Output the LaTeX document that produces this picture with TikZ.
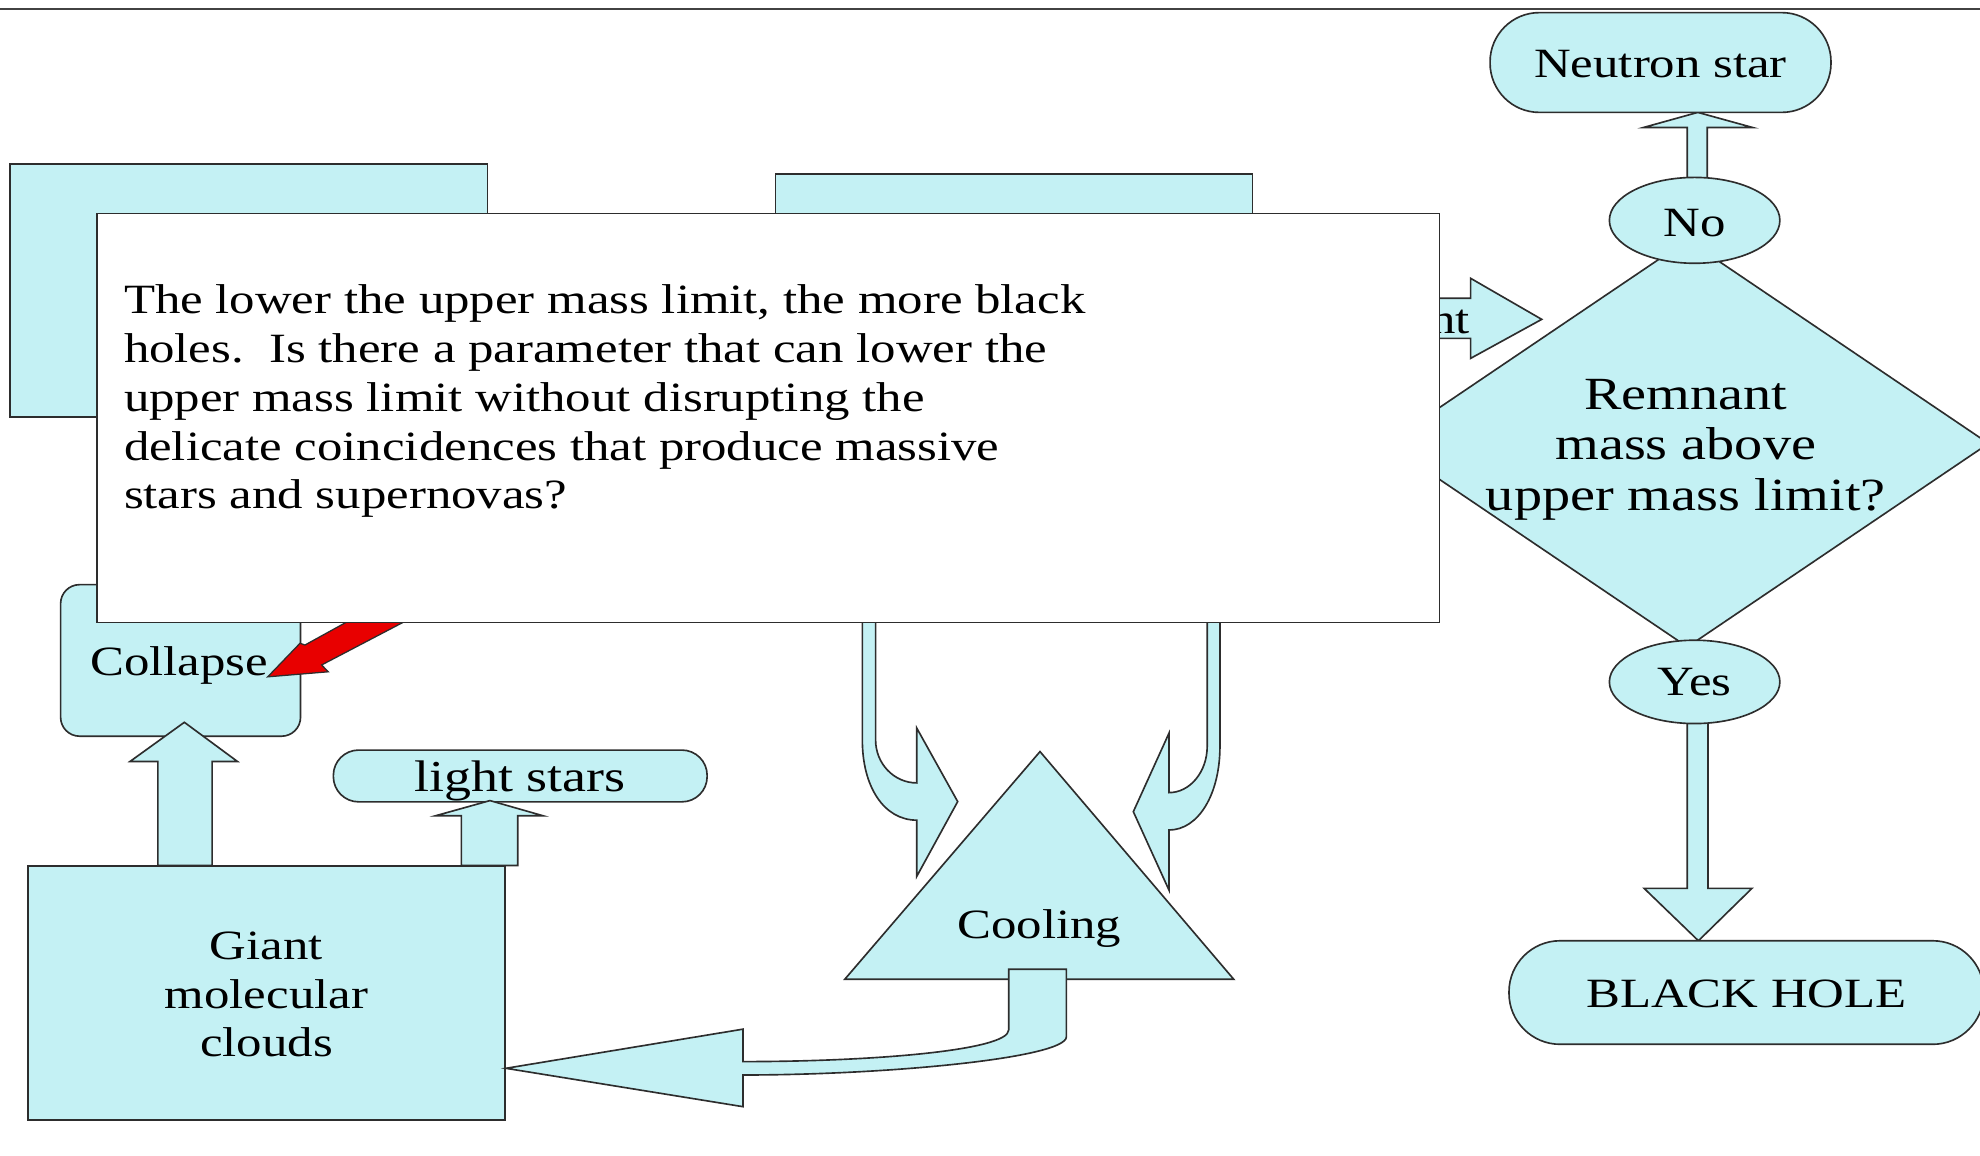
\documentclass[tikz,border=0pt]{standalone}
\usepackage{fontspec}
\setmainfont{Liberation Serif}[FakeStretch=1.22]
\usetikzlibrary{shapes.geometric}
\definecolor{cy}{RGB}{196,241,244}
\definecolor{ol}{RGB}{45,45,45}
\definecolor{redar}{RGB}{232,0,0}
\begin{document}
\begin{tikzpicture}[x=1pt,y=-1pt,
  shp/.style={draw=ol, fill=cy, line width=1.3pt, line join=miter, inner sep=0pt},
  txt/.style={font=\fontsize{33}{39}\selectfont, text=black, inner sep=0pt, anchor=base},
  dtxt/.style={font=\fontsize{36.5}{40}\selectfont, text=black, inner sep=0pt, anchor=base},
  notebox/.style={draw=ol, fill=white, line width=1.3pt, inner sep=0pt}]
\useasboundingbox (0,0) rectangle (1568,915);
\clip (0,0) rectangle (1568,915);
\fill[white] (0,0) rectangle (1568,915);
\draw[color=ol!90, line width=1.6pt] (0,7.5) -- (1568,7.5);

% boxes hidden under the note
\node[shp, rectangle, minimum width=378pt, minimum height=200pt] (tl) at (197,230) {};
\node[shp, rectangle, minimum width=378pt, minimum height=190pt] (tm) at (803,233) {};

% diamond
\node[shp, diamond, minimum width=477.4pt, minimum height=322.8pt] (dia) at (1336.3,351.2) {};

% arrow into diamond with partly hidden label
\draw[shp] (1120,236.2) -- (1164.6,236.2) -- (1164.6,220.4) -- (1220.9,252.9)
  -- (1164.6,283.8) -- (1164.6,268) -- (1120,268) -- cycle;
\node[txt, anchor=base east] (nt) at (1164,264) {nt};

% curved arrows into Cooling
\draw[shp] (682.9,480) -- (682.9,586) .. controls (682.9,623) and (700,649.5) .. (726,649.5)
  -- (726,694) -- (758.4,634.8) -- (726,576.6) -- (726,620)
  .. controls (708,620) and (693.4,604.7) .. (693.4,586) -- (693.4,480) -- cycle;
\draw[shp] (966.1,480) -- (966.1,591) .. controls (966.1,629) and (949,657.3) .. (925.7,657.3)
  -- (925.7,704.8) -- (897.5,642.8) -- (925.7,580.7) -- (925.7,627.7)
  .. controls (942.4,627.7) and (956,611.2) .. (956,591) -- (956,480) -- cycle;

% collapse box
\node[shp, rectangle, rounded corners=15pt, minimum width=190pt, minimum height=120pt] (col) at (143,523) {};
\node[txt] (coltext) at (142,535) {Collapse};

% red arrow (on top of the collapse box)
\draw[draw=ol, fill=redar, line width=1pt, line join=miter] (212,536) -- (237.6,509.4) -- (241.5,510.8)
  -- (297.4,480) -- (343.8,480) -- (254.7,526.6) -- (260,532) -- cycle;

% the note
\node[notebox, minimum width=1063pt, minimum height=324pt] (note) at (608.5,331) {};
\node[txt, anchor=base west] (l1) at (98,248) {The lower the upper mass limit, the more black};
\node[txt, anchor=base west] (l2) at (98,287) {holes.\ \ Is there a parameter that can lower the};
\node[txt, anchor=base west] (l3) at (98,326) {upper mass limit without disrupting the};
\node[txt, anchor=base west] (l4) at (98,365) {delicate coincidences that produce massive};
\node[txt, anchor=base west] (l5) at (98,403) {stars and supernovas?};

% right column
\draw[shp] (1336.2,150) -- (1336.2,101) -- (1301.4,101) -- (1344.5,89) -- (1388,101)
  -- (1352,101) -- (1352,150) -- cycle;
\node[shp, ellipse, minimum width=135pt, minimum height=68pt] (no) at (1342,174.5) {};
\node[txt] (notext) at (1342,187) {No};
\node[shp, rectangle, rounded corners=39pt, minimum width=270pt, minimum height=79pt] (ns) at (1315,49.5) {};
\node[txt] (nstext) at (1315,61) {Neutron star};
\node[dtxt] (d1) at (1335,324) {Remnant};
\node[dtxt] (d2) at (1335,364) {mass above};
\node[dtxt] (d3) at (1335,404) {upper mass limit?};
\draw[shp] (1336.2,560) -- (1336.2,703.5) -- (1302,703.5) -- (1345,745) -- (1387.4,703.5)
  -- (1352.6,703.5) -- (1352.6,560) -- cycle;
\node[shp, ellipse, minimum width=135pt, minimum height=66pt] (yes) at (1342,540) {};
\node[txt] (yestext) at (1342,551) {Yes};
\node[shp, rectangle, rounded corners=40.5pt, minimum width=376pt, minimum height=82pt] (bh) at (1383,786) {};
\node[txt] (bhtext) at (1383,798) {BLACK HOLE};

% lower left
\node[shp, rectangle, minimum width=378pt, minimum height=201pt] (gmc) at (211,786.5) {};
\node[txt] (g1) at (211,760) {Giant};
\node[txt] (g2) at (211,799) {molecular};
\node[txt] (g3) at (211,837) {clouds};
\node[shp, rectangle, rounded corners=20pt, minimum width=296pt, minimum height=41pt] (light) at (412,614.5) {};
\node[txt, font=\fontsize{35}{40}\selectfont] (lighttext) at (412,626.5) {light stars};
\draw[shp] (125,0 |- gmc.north) -- (125,603) -- (103,603) -- (146,572) -- (188,603)
  -- (168,603) -- (168,0 |- gmc.north) -- cycle;
\draw[shp] (365.4,0 |- gmc.north) -- (365.4,646) -- (345,646) -- (388,634) -- (430,646)
  -- (410,646) -- (410,0 |- gmc.north) -- cycle;

% cooling
\coordinate (capex) at (823.6,595.2);
\coordinate (cright) at (977,775.5);
\coordinate (cleft) at (669,775.5);
\draw[shp] (capex) -- (cright) -- (cleft) -- cycle;
\node[txt] (cool) at (823,743) {Cooling};
\draw[shp] (798.8,767.6) -- (844.5,767.6) -- (844.5,821)
  .. controls (844.5,837.7) and (703.7,851.3) .. (588.4,851.3)
  -- (588.4,876.4) -- (gmc.east |- 0,846) -- (588.4,815) -- (588.4,840.7)
  .. controls (690,840.7) and (798.8,832) .. (798.8,815.6) -- cycle;
\end{tikzpicture}
\end{document}
